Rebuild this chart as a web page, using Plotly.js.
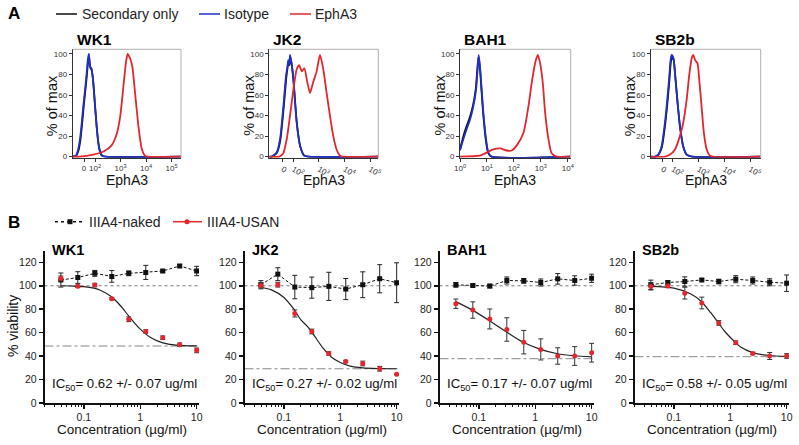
<!DOCTYPE html>
<html><head><meta charset="utf-8">
<script src="https://cdn.plot.ly/plotly-3.0.1.min.js"></script>
<style>html,body{margin:0;padding:0;background:#fff}#chart{width:799px;height:445px}</style>
</head><body><div id="chart"></div>
<script>
// ================= DATA =================
// ---- Panel A: flow cytometry histograms (% of max) ----
const flowNames = ["WK1", "JK2", "BAH1", "SB2b"];
// WK1 / JK2 / SB2b x in display decades of the biexponential axis; BAH1 x in raw intensity (log axis)
const wk1SecX = [1.12,1.26,1.34,1.42,1.49,1.55,1.61,1.66,1.70,1.73,1.77,1.81,1.87,1.93,2.01,2.07,2.13,2.19,2.28,2.42,5.37];
const wk1SecY = [0,1,5,15,31,47,62,74,85,93,97,87,84,73,47,28,14,6,1,0,0];
const wk1IsoX = [1.12,1.25,1.33,1.41,1.48,1.54,1.60,1.65,1.69,1.72,1.76,1.80,1.86,1.92,2.00,2.06,2.12,2.18,2.26,2.40,5.37];
const wk1IsoY = [0,1,6,17,33,49,63,75,86,95,100,88,86,75,49,30,15,6,1,0,0];
const wk1EphX = [1.12,1.41,1.93,2.33,2.65,2.85,2.98,3.08,3.18,3.24,3.28,3.33,3.37,3.46,3.57,3.70,3.83,3.96,4.10,5.37];
const wk1EphY = [0,0,2,5,11,22,38,60,85,96,100,98,96,88,62,30,8,1,0,0];

const jk2SecX = [1.06,1.16,1.36,1.49,1.62,1.72,1.77,1.81,1.85,1.88,1.94,2.01,2.14,2.27,2.43,2.60,5.32];
const jk2SecY = [0,0,4,16,47,76,86,92,89,97,89,73,32,10,1,0,0];
const jk2IsoX = [1.06,1.15,1.35,1.48,1.61,1.71,1.77,1.80,1.84,1.87,1.93,2.00,2.13,2.26,2.42,2.60,5.32];
const jk2IsoY = [0,0,4,17,49,78,88,94,90,99,91,75,33,11,1,0,0];
const jk2EphX = [1.06,1.45,1.60,1.74,1.87,2.00,2.13,2.23,2.33,2.43,2.55,2.65,2.78,2.91,3.04,3.17,3.30,3.43,3.56,3.69,3.82,3.95,5.32];
const jk2EphY = [0,0,3,17,40,65,85,89,83,86,72,62,73,83,99,85,62,40,20,7,1,0,0];

const bahSecX = [1,1.3,1.72,2.3,3.05,3.85,4.3,4.85,5.45,6.3,7.25,9.1,11,14.5,12600];
const bahSecY = [7,19,29,38,50,66,82,97,87,64,42,16,4,0,0];
const bahIsoX = [1,1.33,1.77,2.35,3.13,3.94,4.4,4.94,5.53,6.38,7.36,9.27,11.3,15,12600];
const bahIsoY = [6,17,27,36,49,65,81,99,88,65,43,17,4,0,0];
const bahEphX = [1,5.53,9.8,17.3,30.7,54.3,83.2,128,226,347,461,614,771,942,1183,1445,1923,2559,3926,12600];
const bahEphY = [0,1,4,7,8,6,6,11,23,49,72,91,99,91,72,43,17,3,0,0];

const sb2SecX = [1.15,1.33,1.45,1.58,1.71,1.80,1.87,1.93,1.97,2.04,2.10,2.19,2.29,2.42,2.55,2.75,5.41];
const sb2SecY = [0,0,2,9,31,53,73,92,97,94,79,53,28,9,2,0,0];
const sb2IsoX = [1.15,1.32,1.44,1.57,1.70,1.79,1.86,1.92,1.96,2.03,2.09,2.18,2.28,2.41,2.54,2.74,5.41];
const sb2IsoY = [0,0,2,10,33,55,75,94,99,96,81,55,30,10,2,0,0];
const sb2EphX = [1.15,1.70,1.90,2.09,2.28,2.41,2.54,2.65,2.74,2.80,2.87,2.96,3.03,3.12,3.21,3.32,3.45,5.41];
const sb2EphY = [0,0,2,7,20,33,55,81,96,99,94,91,75,49,23,7,1,0];

const flowSeries = [
  [[wk1SecX,wk1SecY],[wk1IsoX,wk1IsoY],[wk1EphX,wk1EphY]],
  [[jk2SecX,jk2SecY],[jk2IsoX,jk2IsoY],[jk2EphX,jk2EphY]],
  [[bahSecX,bahSecY],[bahIsoX,bahIsoY],[bahEphX,bahEphY]],
  [[sb2SecX,sb2SecY],[sb2IsoX,sb2IsoY],[sb2EphX,sb2EphY]]
];
const flowLegend = ["Secondary only", "Isotype", "EphA3"];
const flowZero = [1.57, 1.59, null, 1.61];
const biexTickText = ["0","10<sup>2</sup>","10<sup>3</sup>","10<sup>4</sup>","10<sup>5</sup>"];
const logTickVals = [1,10,100,1000,10000];
const logTickText = ["10<sup>0</sup>","10<sup>1</sup>","10<sup>2</sup>","10<sup>3</sup>","10<sup>4</sup>"];
const pctTicks = [0,20,40,60,80,100];

// ---- Panel B: viability dose-response ----
const conc = [0.039,0.078,0.156,0.3125,0.625,1.25,2.5,5,10];
const nakedWK1 = [104.9,107,110.6,108,110.6,111.4,112.6,116.9,112.6];
const nakedErrWK1 = [6,5,2.5,5,2,6,1,1,4];
const usanWK1 = [106.3,99.5,100.6,89,71.4,61,55.7,49.7,44.9];
const usanErrWK1 = [2,1,1.5,1,2,1.5,1.5,1.5,2];
const fitXWK1 = [0.039,0.06,0.1,0.15,0.2,0.3,0.4,0.5,0.62,0.8,1,1.5,2,3,5,10];
const fitYWK1 = [100,99.8,99.3,98,96,91,85.5,80,74.3,68,63,56,53,50.5,49.2,48.7];

const nakedJK2 = [100.9,109.9,98.9,98.4,99.5,97.2,100.9,106,102.6];
const nakedErrJK2 = [3.5,5.5,10,9,12,9,11,12,17];
const usanJK2 = [100.3,100.9,76.4,61,42.2,35.4,33.7,29.2,24.5];
const usanErrJK2 = [2,2,3,2,1.5,1,2,2,0.5];
const fitXJK2 = [0.039,0.06,0.1,0.15,0.2,0.27,0.35,0.5,0.7,1,1.5,2.5,5,10];
const fitYJK2 = [98.5,96.5,90,80,71,64.6,57,46.5,39,34.5,31.5,30,29.4,29.2];

const nakedBAH1 = [100.8,100.2,99.7,104.5,104.2,102.8,105.9,104.5,106.4];
const nakedErrBAH1 = [2,1,1.5,3,2,3,4.5,4,3.5];
const usanBAH1 = [84.7,79.3,71.7,62.7,51.9,45.7,40.1,40.1,42.9];
const usanErrBAH1 = [4,7,8.5,10,10,9,7,8,8];
const fitXBAH1 = [0.039,0.078,0.156,0.3,0.6,1.2,2.5,5,10];
const fitYBAH1 = [86.5,79,70,61,52,46,42,40.3,39.3];

const nakedSB2b = [100.8,102.8,103.6,105,103.6,105.6,104.5,103,102.2];
const nakedErrSB2b = [4,1.5,4,1,2,3,3,3,7];
const usanSB2b = [99.4,99.9,93.7,85.3,68.3,51.4,42.3,40.1,40.1];
const usanErrSB2b = [3,1.5,5,5,2,1.5,1,3,2];
const fitXSB2b = [0.039,0.1,0.2,0.3,0.45,0.58,0.8,1.1,1.5,2.5,5,10];
const fitYSB2b = [99.5,98,93,87,77,70,61,54,48,43,40.5,39.8];

const viabSeries = [
  {naked:nakedWK1, nErr:nakedErrWK1, usan:usanWK1, uErr:usanErrWK1, fx:fitXWK1, fy:fitYWK1},
  {naked:nakedJK2, nErr:nakedErrJK2, usan:usanJK2, uErr:usanErrJK2, fx:fitXJK2, fy:fitYJK2},
  {naked:nakedBAH1, nErr:nakedErrBAH1, usan:usanBAH1, uErr:usanErrBAH1, fx:fitXBAH1, fy:fitYBAH1},
  {naked:nakedSB2b, nErr:nakedErrSB2b, usan:usanSB2b, uErr:usanErrSB2b, fx:fitXSB2b, fy:fitYSB2b}
];
const plateau = [48.6, 29.2, 37.8, 39.5];
const topRef = 100;
const concSpan = [0.02, 11];
const ic50Text = ["0.62 +/- 0.07", "0.27 +/- 0.02", "0.17 +/- 0.07", "0.58 +/- 0.05"];
const viabLegend = ["IIIA4-naked", "IIIA4-USAN"];
const viabTicks = [0,20,40,60,80,100,120];
const concTicks = [0.1,1,10];
const concTickText = ["0.1","1","10"];
const concMinor = [0.02,0.03,0.04,0.05,0.06,0.07,0.08,0.09,0.2,0.3,0.4,0.5,0.6,0.7,0.8,0.9,2,3,4,5,6,7,8,9];

// ================= LAYOUT / STYLE =================
const W = 799, H = 445;
const px = p => p / W, py = p => 1 - p / H;
const FONT = "Liberation Sans, Arial, Helvetica, sans-serif";
const flowColors = ["#111111", "#1f2fc8", "#e3262d"];
const usanColor = "#e3262d";
const aFrames = [[72.7,181],[269.3,378.3],[460,570.7],[650.7,760.7]];
const aRanges = [[1.125,5.37],[1.06,5.32],[0,4.11],[1.15,5.41]];
const aTop = 49.3, aBot = 157.7;
const bFrames = [[44.5,199],[244.5,399],[439.5,594],[634.5,789]];
const bTop = 250.6, bBot = 403;

const data = [];
const layout = {
  width: W, height: H, margin: {l:0,r:0,t:0,b:0},
  paper_bgcolor: "#fff", plot_bgcolor: "rgba(0,0,0,0)",
  font: {family: FONT, color: "#111"},
  showlegend: false,
  annotations: [], shapes: []
};

function ann(o) { layout.annotations.push(Object.assign({showarrow:false, font:{family:FONT, size:14, color:"#111"}}, o)); }
function legLine(x0, x1, y, color, dash) {
  layout.shapes.push({type:"line", xref:"paper", yref:"paper", x0:px(x0), x1:px(x1), y0:py(y), y1:py(y), line:{color:color, width:1.5, dash:dash || "solid"}});
}
function legText(x, y, t) {
  ann({text:t, xref:"paper", yref:"paper", x:px(x), y:py(y), xanchor:"left", yanchor:"middle", font:{family:FONT,size:14,color:"#222"}});
}

ann({text:"<b>A</b>", xref:"paper", yref:"paper", x:px(6), y:py(14), xanchor:"left", yanchor:"middle", font:{family:FONT,size:17,color:"#000"}});
ann({text:"<b>B</b>", xref:"paper", yref:"paper", x:px(6), y:py(222), xanchor:"left", yanchor:"middle", font:{family:FONT,size:17,color:"#000"}});

// Legend A (drawn manually to match the figure's compact key)
const legAY = 14;
const legALines = [[56,77],[199,220],[290,311]];
const legAText = [80, 222, 313];
flowLegend.forEach((t, k) => { legLine(legALines[k][0], legALines[k][1], legAY, flowColors[k]); legText(legAText[k], legAY, t); });

// Legend B
const legBY = 221.7;
legLine(55, 85, legBY, "#111", "dot");
layout.shapes.push({type:"rect", xref:"paper", yref:"paper", x0:px(67.5), x1:px(72.5), y0:py(legBY+2.5), y1:py(legBY-2.5), fillcolor:"#111", line:{width:0}});
legText(87, legBY, viabLegend[0]);
legLine(173, 202, legBY, usanColor);
layout.shapes.push({type:"circle", xref:"paper", yref:"paper", x0:px(184.5), x1:px(189.5), y0:py(legBY+2.5), y1:py(legBY-2.5), fillcolor:usanColor, line:{width:0}});
legText(205, legBY, viabLegend[1]);

// ---- Panel A subplots ----
for (let i = 0; i < 4; i++) {
  const n = i + 1;
  const xa = "xaxis" + (n === 1 ? "" : n), ya = "yaxis" + (n === 1 ? "" : n);
  const xr = "x" + (n === 1 ? "" : n), yr = "y" + (n === 1 ? "" : n);
  const isLog = flowZero[i] === null;
  layout[xa] = {
    domain: [px(aFrames[i][0]), px(aFrames[i][1])], anchor: yr,
    type: isLog ? "log" : "linear",
    range: aRanges[i],
    tickmode: "array",
    tickvals: isLog ? logTickVals : [flowZero[i], 2, 3, 4, 5],
    ticktext: isLog ? logTickText : biexTickText,
    ticks: "outside", ticklen: 3, tickwidth: 1, tickcolor: "#333",
    showline: true, linecolor: "#333", linewidth: 1,
    showgrid: false, zeroline: false,
    tickfont: {size: 8, family: FONT, color: "#333"}, fixedrange: true
  };
  layout[ya] = {
    domain: [py(aBot), py(aTop)], anchor: xr,
    range: [-1, 104.5], tickmode: "array", tickvals: pctTicks,
    ticks: "outside", ticklen: 3, tickwidth: 1, tickcolor: "#333",
    showline: true, linecolor: "#333", linewidth: 1,
    showgrid: false, zeroline: false,
    tickfont: {size: 8, family: FONT, color: "#333"}, fixedrange: true
  };
  layout.shapes.push({type:"line", xref:xr+" domain", yref:yr+" domain", x0:0, x1:1, y0:1, y1:1, line:{color:"#b0b0b0", width:1}});
  layout.shapes.push({type:"line", xref:xr+" domain", yref:yr+" domain", x0:1, x1:1, y0:0, y1:1, line:{color:"#b0b0b0", width:1}});
  flowSeries[i].forEach((s, k) => {
    data.push({type:"scatter", mode:"lines", x:s[0], y:s[1], xaxis:xr, yaxis:yr,
      line:{color:flowColors[k], width:1.8, shape:"spline", smoothing:0.6},
      name: flowLegend[k], showlegend:false, hoverinfo:"skip"});
  });
  const cx = (aFrames[i][0] + aFrames[i][1]) / 2;
  ann({text:"<b>" + flowNames[i] + "</b>", xref:"paper", yref:"paper", x:px(aFrames[i][0] + 2), y:py(39), xanchor:"left", yanchor:"middle", font:{family:FONT,size:15.5,color:"#000"}});
  ann({text:"EphA3", xref:"paper", yref:"paper", x:px(cx), y:py(180), xanchor:"center", yanchor:"middle", font:{family:FONT,size:14,color:"#111"}});
  ann({text:"% of max", xref:"paper", yref:"paper", x:px(aFrames[i][0] - 21), y:py((aTop + aBot) / 2 + 2), xanchor:"center", yanchor:"middle", textangle:-90, font:{family:FONT,size:14.5,color:"#111"}});
}

// ---- Panel B subplots ----
for (let i = 0; i < 4; i++) {
  const n = i + 5;
  const xa = "xaxis" + n, ya = "yaxis" + n, xr = "x" + n, yr = "y" + n;
  const s = viabSeries[i];
  layout[xa] = {
    domain: [px(bFrames[i][0]), px(bFrames[i][1])], anchor: yr,
    type: "log", range: [Math.log10(concSpan[0]), Math.log10(concSpan[1])],
    tickmode: "array", tickvals: concTicks, ticktext: concTickText,
    ticks: "outside", ticklen: 4, tickwidth: 1.5, tickcolor: "#111",
    minor: {tickmode: "array", tickvals: concMinor, ticks: "outside", ticklen: 2.5, tickwidth: 1, tickcolor: "#111", showgrid: false},
    showline: true, linecolor: "#111", linewidth: 1.8,
    showgrid: false, zeroline: false,
    tickfont: {size: 10.5, family: FONT, color: "#222"}, fixedrange: true
  };
  layout[ya] = {
    domain: [py(bBot), py(bTop)], anchor: xr,
    range: [0, 130], tickmode: "array", tickvals: viabTicks,
    ticks: "outside", ticklen: 4, tickwidth: 1.5, tickcolor: "#111",
    showline: true, linecolor: "#111", linewidth: 1.8,
    showgrid: false, zeroline: false,
    tickfont: {size: 10.5, family: FONT, color: "#222"}, fixedrange: true
  };
  data.push({type:"scatter", mode:"lines", x:concSpan, y:[topRef, topRef], xaxis:xr, yaxis:yr,
    line:{color:"#777", width:1, dash:"dot"}, showlegend:false, hoverinfo:"skip"});
  data.push({type:"scatter", mode:"lines", x:concSpan, y:[plateau[i], plateau[i]], xaxis:xr, yaxis:yr,
    line:{color:"#888", width:1, dash:"dashdot"}, showlegend:false, hoverinfo:"skip"});
  data.push({type:"scatter", mode:"lines", x:s.fx, y:s.fy, xaxis:xr, yaxis:yr,
    line:{color:"#222", width:1.2, shape:"spline", smoothing:0.8}, showlegend:false, hoverinfo:"skip"});
  data.push({type:"scatter", mode:"lines+markers", x:conc, y:s.naked, xaxis:xr, yaxis:yr,
    line:{color:"#111", width:1, dash:"3px,2px"}, marker:{symbol:"square", size:5, color:"#111"},
    error_y:{type:"data", array:s.nErr, color:"#222", thickness:1, width:2.5},
    name: viabLegend[0], showlegend:false, hoverinfo:"skip"});
  data.push({type:"scatter", mode:"markers", x:conc, y:s.usan, xaxis:xr, yaxis:yr,
    marker:{symbol:"circle", size:5, color:usanColor},
    error_y:{type:"data", array:s.uErr, color:"#333", thickness:1, width:2.5},
    name: viabLegend[1], showlegend:false, hoverinfo:"skip"});
  const cx = (bFrames[i][0] + bFrames[i][1]) / 2;
  ann({text:"<b>" + flowNames[i] + "</b>", xref:"paper", yref:"paper", x:px(bFrames[i][0] + 5), y:py(250), xanchor:"left", yanchor:"middle", font:{family:FONT,size:14.5,color:"#000"}});
  ann({text:"Concentration (µg/ml)", xref:"paper", yref:"paper", x:px(cx), y:py(429.5), xanchor:"center", yanchor:"middle", font:{family:FONT,size:13.5,color:"#111"}});
  ann({text:"IC<sub>50</sub>= " + ic50Text[i] + " ug/ml", xref:"paper", yref:"paper", x:px(bFrames[i][0] + 0.52 * (bFrames[i][1] - bFrames[i][0])), y:py(384), xanchor:"center", yanchor:"middle", font:{family:FONT,size:13.2,color:"#111"}});
}

ann({text:"% viability", xref:"paper", yref:"paper", x:px(13), y:py(326), xanchor:"center", yanchor:"middle", textangle:-90, font:{family:FONT,size:14,color:"#111"}});

Plotly.newPlot("chart", data, layout, {staticPlot:true, displayModeBar:false});
</script>
</body></html>
